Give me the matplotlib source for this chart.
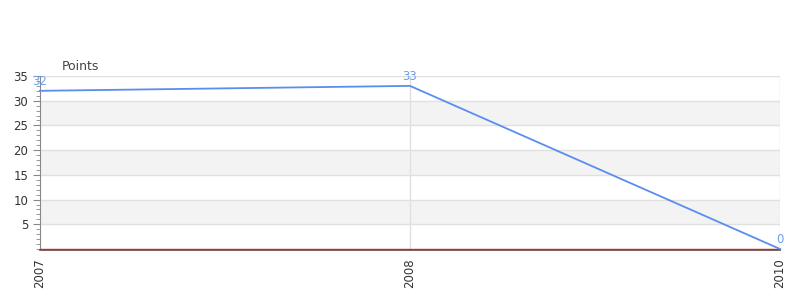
import matplotlib
matplotlib.use("Agg")
import matplotlib.pyplot as plt
from matplotlib.ticker import MultipleLocator

categories = ["2007", "2008", "2010"]
points = [32, 33, 0]
baseline = [0, 0, 0]
yticks = [5, 10, 15, 20, 25, 30, 35]

fig = plt.figure(figsize=(8, 3), dpi=100)
ax = fig.add_axes([40/800, 1-249/300, 740/800, (249-76)/300])
x = list(range(len(categories)))

for s in ["top", "right"]:
    ax.spines[s].set_visible(False)
ax.spines["left"].set_color("#888888")
ax.spines["bottom"].set_color("#555555")
ax.spines["bottom"].set_linewidth(1.2)
ax.spines["bottom"].set_position(("outward", 1))

ax.set_xlim(0, len(categories) - 1)
ax.set_ylim(0, 35)

# alternating bands
for lo in range(0, 35, 10):
    ax.axhspan(lo + 5, lo + 10, color="#f3f3f3", zorder=0, lw=0)
for yv in yticks:
    ax.axhline(yv, color="#e0e0e0", lw=1, zorder=1)
for xv in x[1:]:
    ax.axvline(xv, color="#e0e0e0", lw=1, zorder=1)

ax.plot(x, baseline, color="#d62020", lw=1.0, zorder=3, clip_on=False)
ax.plot(x, points, color="#5b8def", lw=1.3, zorder=4, clip_on=False)
for xi, v in zip(x, points):
    ax.annotate(str(v), (xi, v), xytext=(0, 2), textcoords="offset points",
                ha="center", va="bottom", color="#6f9ff0", fontsize=8.5)

ax.set_yticks(yticks)
ax.yaxis.set_minor_locator(MultipleLocator(1))
ax.set_xticks(x)
ax.set_xticklabels(categories, rotation=90, fontsize=8.5, color="#333333")
ax.tick_params(axis="y", labelsize=8.5, labelcolor="#333333", color="#888888", length=5)
ax.tick_params(axis="y", which="minor", color="#888888", length=3)
ax.tick_params(axis="x", length=0, pad=6)

fig.text(62/800, 1-66/300, "Points", fontsize=9, color="#444444", va="center")

fig.savefig("out.png", dpi=100)
